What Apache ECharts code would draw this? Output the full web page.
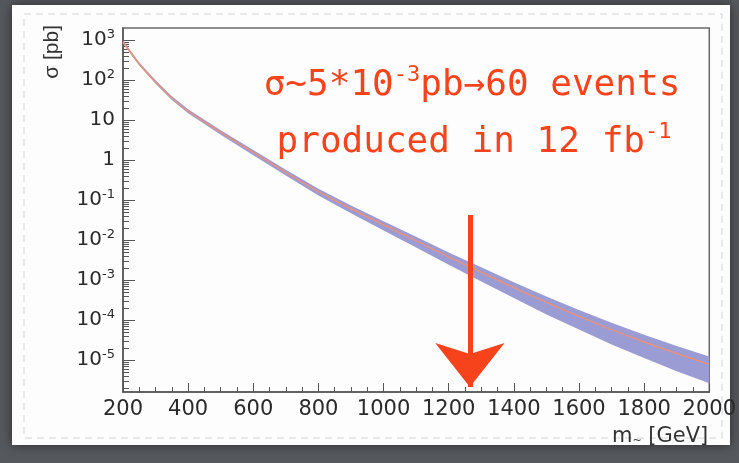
<!DOCTYPE html>
<html>
<head>
<meta charset="utf-8">
<script src="https://cdn.jsdelivr.net/npm/echarts@6/dist/echarts.min.js"></script>
<style>
  html, body { margin: 0; padding: 0; background: #55585c; }
  #chart { width: 739px; height: 463px; }
</style>
</head>
<body>
<div id="chart"></div>
<script>
// mass points (GeV) and cross section (pb)
const massGeV = [200, 250, 300, 350, 400, 500, 600, 700, 800, 900, 1000, 1100, 1200, 1300, 1400, 1500, 1600, 1700, 1800, 1900, 2000]
const sigmaCentral = [891, 251, 89.1, 35.5, 16.6, 4.90, 1.55, 0.490, 0.162, 0.0603, 0.0240, 9.55e-3, 3.80e-3, 1.55e-3, 6.46e-4, 2.75e-4, 1.23e-4, 5.75e-5, 2.82e-5, 1.45e-5, 7.76e-6]
const sigmaUp = [977, 275, 98.9, 39.4, 18.6, 5.56, 1.78, 0.569, 0.191, 0.0724, 0.0295, 0.0120, 4.90e-3, 2.07e-3, 8.81e-4, 3.89e-4, 1.78e-4, 8.51e-5, 4.27e-5, 2.24e-5, 1.23e-5]
const sigmaDown = [813, 229, 80.4, 31.6, 14.8, 4.27, 1.32, 0.407, 0.130, 0.0468, 0.0174, 6.46e-3, 2.40e-3, 9.12e-4, 3.55e-4, 1.38e-4, 5.75e-5, 2.45e-5, 1.12e-5, 5.25e-6, 2.63e-6]

// axis ticks
const yMajorTicks = [1e3, 1e2, 10, 1, 1e-1, 1e-2, 1e-3, 1e-4, 1e-5]
const yMin = 1.585e-6
const yMax = 1995

// red arrow annotation
const arrowMass = 1265
const arrowTop = 0.042
const arrowTip = 2.1e-6

const red = '#f7431b'
const bandColor = '#9c9cd4'
const lineColor = '#e8917c'

// log minor ticks 2..9 per decade
const yMinorTicks = []
for (let e = -6; e <= 3; e++) {
  for (let k = 2; k <= 9; k++) {
    const v = k * Math.pow(10, e)
    if (v > yMin && v < yMax) yMinorTicks.push(v)
  }
}

function yLabel(v) {
  const e = Math.round(Math.log10(v))
  if (e === 0) return '{b|1}'
  if (e === 1) return '{b|10}'
  return '{b|10}{s|' + e + '}'
}

// uncertainty band: one polygon, upper edge then lower edge back
function renderBand(params, api) {
  if (params.dataIndex !== 0) return null
  const pts = []
  for (let i = 0; i < massGeV.length; i++) pts.push(api.coord([massGeV[i], sigmaUp[i]]))
  for (let i = massGeV.length - 1; i >= 0; i--) pts.push(api.coord([massGeV[i], sigmaDown[i]]))
  return {
    type: 'polygon',
    shape: { points: pts },
    style: { fill: bandColor }
  }
}

const chart = echarts.init(document.getElementById('chart'))

chart.setOption({
  backgroundColor: '#55585c',
  animation: false,
  grid: {
    left: 123,
    right: 27,
    top: 28,
    bottom: 71,
    show: true,
    borderColor: '#6a6a6a',
    borderWidth: 1.5
  },
  xAxis: {
    type: 'value',
    min: 200,
    max: 2000,
    interval: 200,
    name: '{t|m}{u|~}{t| [GeV]}',
    nameLocation: 'end',
    nameGap: -1,
    nameTextStyle: {
      align: 'right',
      verticalAlign: 'top',
      padding: [34, 0, 0, 0],
      rich: {
        t: { fontFamily: 'DejaVu Sans', fontSize: 21, color: '#333' },
        u: { fontFamily: 'DejaVu Sans', fontSize: 11, color: '#333', verticalAlign: 'bottom' }
      }
    },
    axisLine: { lineStyle: { color: '#555', width: 1.5 } },
    axisTick: { inside: true, length: 9, lineStyle: { color: '#555' } },
    minorTick: { show: true, splitNumber: 4, length: 5, lineStyle: { color: '#555' } },
    splitLine: { show: false },
    axisLabel: {
      margin: 7,
      fontFamily: 'DejaVu Sans',
      fontSize: 21,
      color: '#2a2a2a',
      formatter: v => String(v)
    }
  },
  yAxis: [
    {
      type: 'log',
      min: yMin,
      max: yMax,
      axisLine: { show: true, lineStyle: { color: '#555', width: 1.5 } },
      axisTick: { inside: true, length: 12, customValues: yMajorTicks, lineStyle: { color: '#555' } },
      splitLine: { show: false },
      axisLabel: {
        margin: 8,
        customValues: yMajorTicks,
        formatter: yLabel,
        rich: {
          b: { fontFamily: 'DejaVu Sans', fontSize: 20, color: '#2a2a2a', lineHeight: 24 },
          s: { fontFamily: 'DejaVu Sans', fontSize: 13, color: '#2a2a2a', lineHeight: 24, verticalAlign: 'top' }
        }
      }
    },
    {
      type: 'log',
      min: yMin,
      max: yMax,
      position: 'left',
      axisLine: { show: false },
      axisTick: { inside: true, length: 6, customValues: yMinorTicks, lineStyle: { color: '#555' } },
      axisLabel: { show: false },
      splitLine: { show: false }
    }
  ],
  graphic: [
    {
      type: 'rect',
      z: -10,
      shape: { x: 12, y: 5, width: 718, height: 440 },
      style: { fill: '#fdfdfd', shadowBlur: 10, shadowColor: 'rgba(0,0,0,0.5)' }
    },
    {
      type: 'rect',
      z: -9,
      shape: { x: 24, y: 14, width: 698, height: 424 },
      style: { fill: null, stroke: '#d4d4d4', lineWidth: 1, lineDash: [7, 5] }
    },
    {
      type: 'text',
      x: 52,
      y: 25,
      rotation: Math.PI / 2,
      style: {
        text: 'σ [pb]',
        font: '21px "Liberation Sans"',
        fill: '#333',
        align: 'right',
        verticalAlign: 'middle'
      }
    },
    {
      type: 'text',
      z: 100,
      x: 472,
      y: 86,
      style: {
        text: '{a|σ~5*10}{s|-3}{a|pb→60 events}',
        align: 'center',
        verticalAlign: 'middle',
        rich: {
          a: { fontFamily: 'DejaVu Sans Mono', fontSize: 36, fill: red, lineHeight: 44 },
          s: { fontFamily: 'DejaVu Sans Mono', fontSize: 22, fill: red, lineHeight: 44, verticalAlign: 'top' }
        }
      }
    },
    {
      type: 'text',
      z: 100,
      x: 474,
      y: 143,
      style: {
        text: '{a|produced in 12 fb}{s|-1}',
        align: 'center',
        verticalAlign: 'middle',
        rich: {
          a: { fontFamily: 'DejaVu Sans Mono', fontSize: 36, fill: red, lineHeight: 44 },
          s: { fontFamily: 'DejaVu Sans Mono', fontSize: 22, fill: red, lineHeight: 44, verticalAlign: 'top' }
        }
      }
    }
  ],
  series: [
    {
      name: 'band',
      type: 'custom',
      renderItem: renderBand,
      clip: true,
      encode: { x: 0, y: [1, 2] },
      data: massGeV.map((m, i) => [m, sigmaUp[i], sigmaDown[i]])
    },
    {
      name: 'central',
      type: 'line',
      smooth: 0.3,
      symbol: 'none',
      lineStyle: { color: lineColor, width: 1.5 },
      data: massGeV.map((m, i) => [m, sigmaCentral[i]]),
      markLine: {
        silent: true,
        symbol: ['none', 'arrow'],
        symbolSize: [52, 44],
        label: { show: false },
        lineStyle: { color: red, width: 5, type: 'solid' },
        itemStyle: { color: red },
        data: [[{ coord: [arrowMass, arrowTop] }, { coord: [arrowMass, arrowTip] }]]
      }
    }
  ]
})
</script>
</body>
</html>
